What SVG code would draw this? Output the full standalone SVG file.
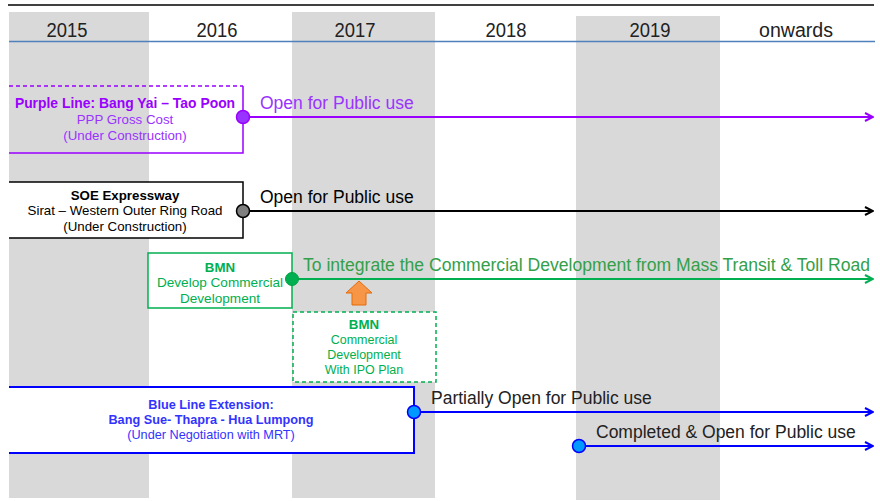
<svg xmlns="http://www.w3.org/2000/svg" width="880" height="501" viewBox="0 0 880 501">
<defs>
<style>
text{font-family:"Liberation Sans",Arial,sans-serif}
.yr{font-size:20px;fill:#222;text-anchor:middle}
.col{fill:#d9d9d9}
.bt{font-size:13.3px;text-anchor:middle}
.b{font-weight:bold}
.lbl{font-size:17.5px}
</style>
<marker id="ap" viewBox="0 0 10 10" refX="9" refY="5" markerWidth="10" markerHeight="10" markerUnits="userSpaceOnUse" orient="auto"><path d="M1,1 L9,5 L1,9" fill="none" stroke="#9900ff" stroke-width="2"/></marker>
<marker id="ak" viewBox="0 0 10 10" refX="9" refY="5" markerWidth="10" markerHeight="10" markerUnits="userSpaceOnUse" orient="auto"><path d="M1,1 L9,5 L1,9" fill="none" stroke="#000" stroke-width="2"/></marker>
<marker id="ag" viewBox="0 0 10 10" refX="9" refY="5" markerWidth="10" markerHeight="10" markerUnits="userSpaceOnUse" orient="auto"><path d="M1,1 L9,5 L1,9" fill="none" stroke="#00b050" stroke-width="2"/></marker>
<marker id="ab" viewBox="0 0 10 10" refX="9" refY="5" markerWidth="10" markerHeight="10" markerUnits="userSpaceOnUse" orient="auto"><path d="M1,1 L9,5 L1,9" fill="none" stroke="#0000ff" stroke-width="2"/></marker>
</defs>
<rect width="880" height="501" fill="#fff"/>
<g id="columns">
<rect class="col" x="9" y="12" width="140" height="486"/>
<rect class="col" x="292" y="12" width="143" height="486"/>
<rect class="col" x="576" y="16" width="144" height="484"/>
</g>
<g id="header">
<line x1="8" y1="5" x2="874" y2="5" stroke="#000" stroke-width="1.5"/>
<line x1="9" y1="41.5" x2="875" y2="41.5" stroke="#4f81bd" stroke-width="1.5"/>
<text class="yr" x="67" y="37" textLength="41" lengthAdjust="spacingAndGlyphs">2015</text>
<text class="yr" x="217" y="37" textLength="41" lengthAdjust="spacingAndGlyphs">2016</text>
<text class="yr" x="355" y="37" textLength="41" lengthAdjust="spacingAndGlyphs">2017</text>
<text class="yr" x="506" y="37" textLength="41" lengthAdjust="spacingAndGlyphs">2018</text>
<text class="yr" x="650" y="37" textLength="41" lengthAdjust="spacingAndGlyphs">2019</text>
<text class="yr" x="796" y="37" textLength="74" lengthAdjust="spacingAndGlyphs">onwards</text>
</g>
<g id="connectors">
<line x1="243" y1="117" x2="873" y2="117" stroke="#9900ff" stroke-width="2" marker-end="url(#ap)"/>
<line x1="243" y1="211" x2="873" y2="211" stroke="#000" stroke-width="2" marker-end="url(#ak)"/>
<line x1="292" y1="279" x2="873" y2="279" stroke="#00b050" stroke-width="2" marker-end="url(#ag)"/>
<line x1="414" y1="412" x2="873" y2="412" stroke="#0000ff" stroke-width="2" marker-end="url(#ab)"/>
<line x1="579" y1="446" x2="873" y2="446" stroke="#0000ff" stroke-width="2" marker-end="url(#ab)"/>
<path d="M352,305 L352,293 L346,293 L359,281 L372,293 L366,293 L366,305 Z" fill="#f79646" stroke="#e46c0a" stroke-width="1"/>
</g>
<g id="purple">
<path d="M9,153 L243,153 L243,86" fill="none" stroke="#9900ff" stroke-width="1.5"/>
<line x1="9" y1="86" x2="243" y2="86" stroke="#9900ff" stroke-width="1.5" stroke-dasharray="4,3"/>
<text class="bt b" x="125" y="108" fill="#9900ff" style="font-size:13.9px">Purple Line: Bang Yai – Tao Poon</text>
<text class="bt" x="125" y="124" fill="#9933ff">PPP Gross Cost</text>
<text class="bt" x="125" y="140" fill="#9933ff">(Under Construction)</text>
<circle cx="243" cy="117" r="6.5" fill="#9933ff" stroke="#9900ff" stroke-width="1.5"/>
<text class="lbl" x="260" y="109" fill="#9933ff">Open for Public use</text>
</g>
<g id="soe">
<path d="M9,182 L243,182 L243,238 L9,238" fill="#fff" stroke="#000" stroke-width="1.5"/>
<text class="bt b" x="125" y="200" fill="#000">SOE Expressway</text>
<text class="bt" x="125" y="215" fill="#000">Sirat – Western Outer Ring Road</text>
<text class="bt" x="125" y="231" fill="#000">(Under Construction)</text>
<circle cx="243" cy="211" r="6.5" fill="#7f7f7f" stroke="#000" stroke-width="1.5"/>
<text class="lbl" x="260" y="203" fill="#000">Open for Public use</text>
</g>
<g id="bmn">
<rect x="148" y="253" width="144" height="55" fill="#fff" stroke="#00b050" stroke-width="1.5"/>
<text class="bt b" x="220" y="272" fill="#00b050">BMN</text>
<text class="bt" x="220" y="287" fill="#00b050" style="font-size:13.6px">Develop Commercial</text>
<text class="bt" x="220" y="303" fill="#00b050" style="font-size:13.6px">Development</text>
<circle cx="292" cy="279" r="6.5" fill="#00b050" stroke="#00a040" stroke-width="1"/>
<text class="lbl" x="303" y="271" fill="#33a04a" textLength="567" lengthAdjust="spacingAndGlyphs">To integrate the Commercial Development from Mass Transit &amp; Toll Road</text>
</g>
<g id="bmn-ipo">
<rect x="293" y="312" width="143" height="70" fill="#fff" stroke="#00b050" stroke-width="1.5" stroke-dasharray="4,3"/>
<text class="bt b" x="364" y="329" fill="#00b050">BMN</text>
<text class="bt" x="364" y="344" fill="#00b050" style="font-size:12.5px">Commercial</text>
<text class="bt" x="364" y="359" fill="#00b050" style="font-size:12.5px">Development</text>
<text class="bt" x="364" y="374" fill="#00b050" style="font-size:12.5px">With IPO Plan</text>
</g>
<g id="blue">
<path d="M9,387 L414,387 L414,453 L9,453" fill="#fff" stroke="#0000ff" stroke-width="2"/>
<text class="bt b" x="211" y="409" fill="#3333ff" style="font-size:12.7px">Blue Line Extension:</text>
<text class="bt b" x="211" y="424" fill="#3333ff" style="font-size:12.7px">Bang Sue- Thapra - Hua Lumpong</text>
<text class="bt" x="211" y="439" fill="#3333ff" style="font-size:12.7px">(Under Negotiation with MRT)</text>
<circle cx="414" cy="412" r="6.5" fill="#0099ff" stroke="#0000ff" stroke-width="1.5"/>
<text class="lbl" x="431" y="404" fill="#222">Partially Open for Public use</text>
</g>
<g id="blue-complete">
<circle cx="579" cy="446" r="6.5" fill="#0099ff" stroke="#0000ff" stroke-width="1.5"/>
<text class="lbl" x="596" y="438" fill="#222">Completed &amp; Open for Public use</text>
</g>
</svg>
